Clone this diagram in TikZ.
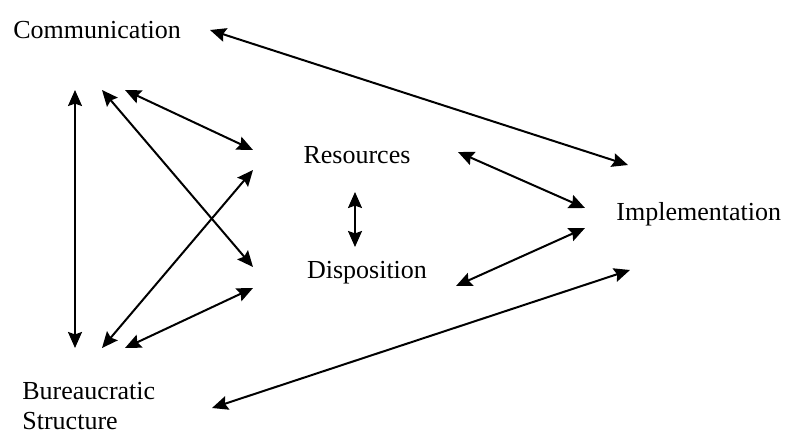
\documentclass[tikz,border=0pt]{standalone}
\usepackage{fontspec}
\setmainfont{Liberation Serif}
\usetikzlibrary{arrows.meta}
\tikzstyle{term} = [inner sep=0pt, font=\fontsize{13}{15}\selectfont, align=left]
\tikzstyle{arrow} = [line width=1pt, {Stealth[length=8pt,width=7pt,inset=1.2pt]}-{Stealth[length=8pt,width=7pt,inset=1.2pt]}]

\begin{document}
\begin{tikzpicture}[x=0.5pt, y=-0.5pt]
    \useasboundingbox (0,0) rectangle (792,434);
    \node (comm) [term, anchor=west] at (13,30) {Communication};
    \node (res) [term] at (357,155) {Resources};
    \node (disp) [term] at (367,273) {Disposition};
    \node (impl) [term, anchor=west] at (616,214) {Implementation};
    \node (bur) [term, anchor=north west] at (22,382) {Bureaucratic\\Structure};

    \coordinate (commR) at (210,30);
    \coordinate (implT) at (628,165);
    \coordinate (commA) at (75,90);
    \coordinate (burA) at (75,348);
    \coordinate (commB) at (102,90);
    \coordinate (commC) at (125,90);
    \coordinate (burB) at (102,348);
    \coordinate (burC) at (125,348);
    \coordinate (resL) at (253,150);
    \coordinate (resLL) at (253,170);
    \coordinate (dispL) at (253,267);
    \coordinate (dispLL) at (253,288);
    \coordinate (resB) at (355,192);
    \coordinate (dispT) at (355,247);
    \coordinate (resR) at (458,152);
    \coordinate (dispR) at (456,286);
    \coordinate (implA) at (585,208);
    \coordinate (implB) at (585,228);
    \coordinate (burR) at (212,408);
    \coordinate (implC) at (630,270);

    \draw [arrow] (commR) -- (implT);
    \draw [arrow] (commA) -- (burA);
    \draw [arrow] (commC) -- (resL);
    \draw [arrow] (commB) -- (dispL);
    \draw [arrow] (burB) -- (resLL);
    \draw [arrow] (burC) -- (dispLL);
    \draw [arrow] (resB) -- (dispT);
    \draw [arrow] (resR) -- (implA);
    \draw [arrow] (dispR) -- (implB);
    \draw [arrow] (burR) -- (implC);
\end{tikzpicture}
\end{document}
